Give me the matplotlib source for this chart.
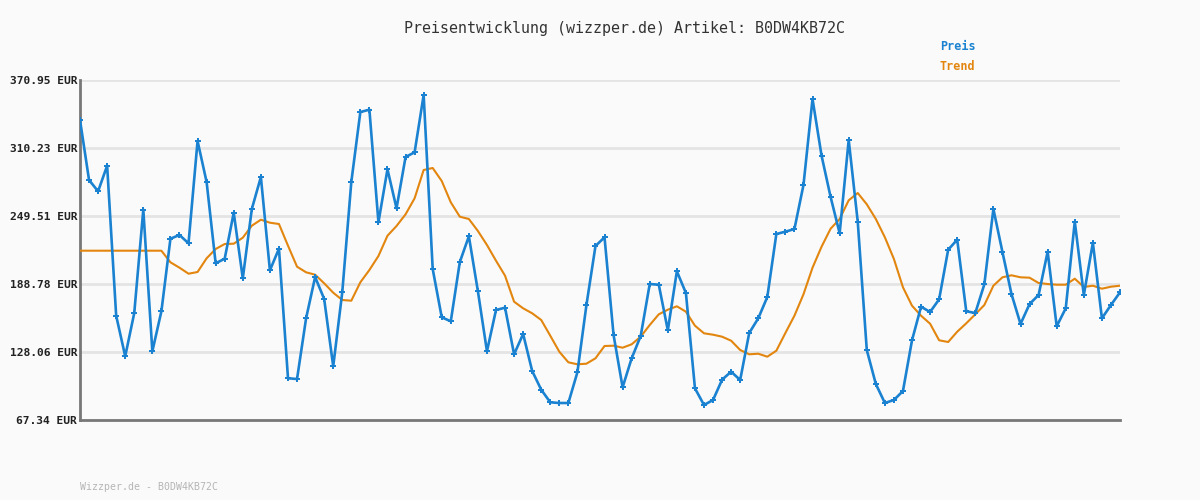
import numpy as np
import matplotlib
matplotlib.use("Agg")
import matplotlib.pyplot as plt

# values (EUR)
preis = [335.23, 281.65, 271.56, 294.42, 160.48, 124.22, 162.89, 255.13, 128.69, 164.40,
         229.23, 232.54, 225.13, 316.48, 279.86, 207.27, 211.37, 252.45, 193.87, 255.76,
         284.33, 201.02, 220.31, 104.58, 103.95, 158.15, 195.03, 175.39, 115.29, 181.37,
         279.86, 342.37, 344.43, 243.88, 291.21, 256.38, 302.19, 306.39, 357.56, 202.18,
         159.05, 155.48, 208.43, 231.38, 182.26, 128.69, 165.57, 167.62, 126.01, 144.14,
         111.10, 94.40, 83.15, 82.52, 82.52, 109.93, 170.03, 222.72, 230.49, 143.24,
         96.54, 122.44, 142.35, 188.78, 188.16, 147.44, 200.13, 180.75, 95.65, 80.73,
         85.20, 103.33, 110.47, 103.06, 145.03, 158.15, 177.18, 233.43, 235.49, 237.90,
         277.19, 353.98, 303.35, 266.47, 234.06, 317.37, 244.42, 129.85, 99.49, 82.52,
         85.20, 93.24, 138.51, 168.51, 163.78, 175.12, 219.41, 228.34, 164.40, 162.89,
         188.52, 255.76, 217.36, 179.85, 153.07, 170.92, 178.96, 217.63, 151.01, 167.09,
         244.42, 178.96, 225.66, 158.15, 170.03, 181.37]

trend = [218.52, 218.52, 218.52, 218.52, 218.52, 218.52, 218.52, 218.52, 218.52, 218.52,
         208.16, 203.34, 197.98, 199.50, 211.73, 220.04, 224.50, 224.77, 230.13, 240.84,
         246.20, 243.52, 242.36, 222.98, 204.23, 199.23, 197.09, 189.41, 181.02, 174.50,
         173.87, 190.30, 201.29, 213.79, 231.91, 240.58, 251.02, 265.31, 290.58, 292.37,
         280.76, 261.74, 248.88, 246.83, 236.11, 223.61, 209.59, 196.20, 172.98, 167.09,
         162.62, 156.64, 142.62, 128.33, 118.86, 117.08, 117.62, 122.44, 133.42, 133.69,
         131.90, 134.94, 141.73, 152.17, 161.73, 165.84, 168.87, 164.05, 151.55, 144.76,
         143.51, 141.73, 138.15, 129.85, 126.01, 126.54, 123.87, 129.22, 145.03, 160.48,
         179.59, 203.34, 222.09, 238.17, 246.83, 263.53, 270.04, 259.95, 246.83, 230.49,
         211.11, 185.84, 169.41, 160.48, 153.33, 138.51, 136.99, 146.19, 153.69, 161.73,
         170.03, 187.27, 194.77, 196.55, 194.77, 194.41, 189.68, 188.78, 188.16, 188.16,
         193.52, 186.11, 187.27, 184.59, 186.37, 187.27]

ytick_vals = [67.34, 128.06, 188.78, 249.51, 310.23, 370.95]
ytick_labels = ["67.34 EUR", "128.06 EUR", "188.78 EUR", "249.51 EUR", "310.23 EUR", "370.95 EUR"]

artikel = "B0DW4KB72C"

bg = "#fafafa"
blue = "#1a82d0"
orange = "#e2860f"
mono = "DejaVu Sans Mono"

fig = plt.figure(figsize=(12, 5), dpi=100, facecolor=bg)
ax = fig.add_axes([80 / 1200, 80 / 500, 1040 / 1200, 340 / 500], facecolor=bg)

x = np.arange(len(preis))
ax.plot(x, trend, color=orange, lw=1.5, zorder=3)
ax.plot(x, preis, color=blue, lw=1.9, marker="P", ms=3.8, mew=0, zorder=4)

ax.set_xlim(0, len(preis) - 1)
ax.set_ylim(ytick_vals[0], ytick_vals[-1])
ax.set_yticks(ytick_vals)
ax.set_yticklabels(ytick_labels, fontfamily=mono, fontweight="bold", fontsize=8.1, color="#222222")
ax.set_xticks([])
ax.tick_params(axis="y", length=0, pad=2)
ax.grid(axis="y", color="#e4e4e4", lw=2)
ax.set_axisbelow(True)

for s in ["top", "right"]:
    ax.spines[s].set_visible(False)
for s in ["left", "bottom"]:
    ax.spines[s].set_color("#777777")
    ax.spines[s].set_linewidth(2)

fig.text(0.52, 1 - 28 / 500, "Preisentwicklung (wizzper.de) Artikel: " + artikel,
         ha="center", va="center", fontfamily=mono, fontsize=10.8, color="#333333")
fig.text(940 / 1200, 1 - 47 / 500, "Preis", ha="left", va="center",
         fontfamily=mono, fontweight="bold", fontsize=8.5, color=blue)
fig.text(940 / 1200, 1 - 67 / 500, "Trend", ha="left", va="center",
         fontfamily=mono, fontweight="bold", fontsize=8.5, color=orange)
fig.text(80 / 1200, 1 - 487 / 500, "Wizzper.de - " + artikel, ha="left", va="center",
         fontfamily=mono, fontsize=7.1, color="#b5b5b5")

fig.savefig("out.png", dpi=100, facecolor=bg)
